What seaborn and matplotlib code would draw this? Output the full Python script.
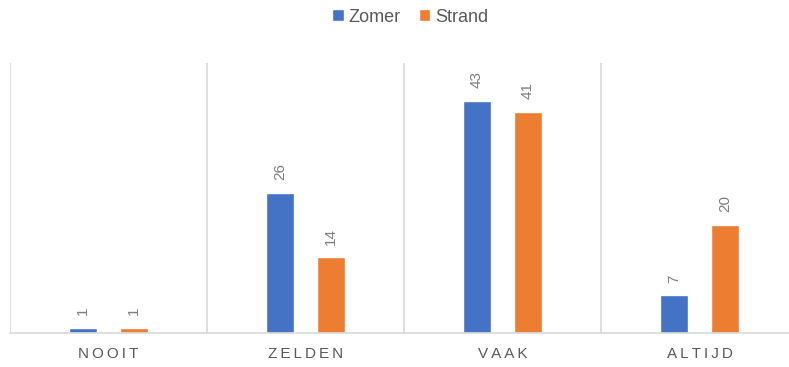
import matplotlib
matplotlib.use("Agg")
import matplotlib.pyplot as plt
import seaborn as sns
import pandas as pd

categories = ["Nooit", "Zelden", "Vaak", "Altijd"]
series_names = ["Zomer", "Strand"]
zomer = [1, 26, 43, 7]
strand = [1, 14, 41, 20]
colors = ["#4472C4", "#ED7D31"]

df = pd.DataFrame({
    "categorie": categories * 2,
    "reeks": [series_names[0]] * len(categories) + [series_names[1]] * len(categories),
    "waarde": zomer + strand,
})

sns.set_theme(style="white")
plt.rcParams["font.family"] = ["Liberation Sans", "DejaVu Sans"]

W, H = 789, 367
fig = plt.figure(figsize=(W / 100, H / 100), dpi=100)
ax = fig.add_axes([10 / W, (H - 333) / H, 788 / W, (333 - 63) / H])

sns.barplot(data=df, x="categorie", y="waarde", hue="reeks", order=categories,
            hue_order=series_names, palette=colors, width=0.517, gap=0.45,
            saturation=1, ax=ax, legend=True)

ax.set_ylim(0, 50)
ax.set_xlim(-0.5, len(categories) - 0.5)

for container in ax.containers:
    ax.bar_label(container, fmt="%d", rotation=90, padding=9,
                 color="#7F7F7F", fontsize=11)

# Category separators
for i in range(len(categories) + 1):
    ax.axvline(i - 0.5, color="#D9D9D9", lw=1.2, zorder=0)

for s in ["top", "right", "left"]:
    ax.spines[s].set_visible(False)
ax.spines["bottom"].set_color("#D9D9D9")
ax.spines["bottom"].set_linewidth(1.2)

ax.set_yticks([])
ax.set_xlabel("")
ax.set_ylabel("")
spaced = ["\u2009".join(c.upper()) for c in categories]
ax.set_xticks(range(len(categories)))
ax.set_xticklabels(spaced, color="#595959", fontsize=11)
ax.tick_params(axis="x", length=0, pad=10)

handles, labels = ax.get_legend_handles_labels()
ax.legend(handles, labels, loc="center", bbox_to_anchor=(400 / 788, 1 + (63 - 17) / 270),
          ncol=2, frameon=False, fontsize=13, handlelength=0.65, handleheight=0.65,
          handletextpad=0.25, columnspacing=1.0, labelcolor="#595959")

fig.savefig("out.png", dpi=100)
